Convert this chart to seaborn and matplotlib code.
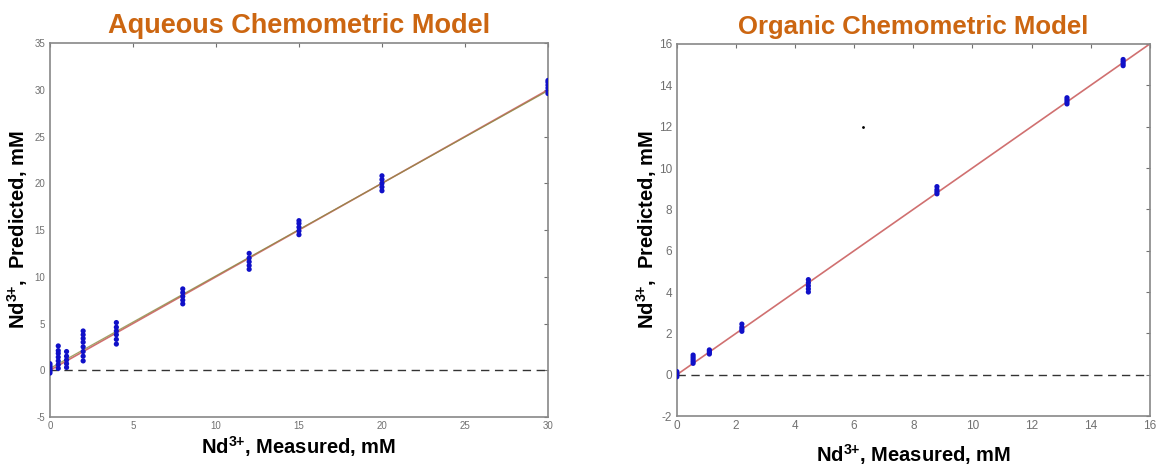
import numpy as np
import pandas as pd
import seaborn as sns
import matplotlib.pyplot as plt

sns.set_style("white")
plt.rcParams['font.family'] = ['Liberation Sans', 'DejaVu Sans']
plt.rcParams['axes.unicode_minus'] = False

# aqueous model: measured level -> predicted replicates
aq_measured = [0, 0.5, 1, 2, 4, 8, 12, 15, 20, 30]
aq_predicted = [
    [-0.3, -0.1, 0.1, 0.3, 0.5, 0.7],
    [0.2, 0.6, 1.0, 1.4, 1.8, 2.1, 2.6],
    [0.3, 0.7, 1.1, 1.5, 2.0],
    [1.0, 1.5, 2.0, 2.5, 3.0, 3.4, 3.8, 4.2],
    [2.8, 3.3, 3.8, 4.2, 4.6, 5.1],
    [7.1, 7.5, 7.9, 8.3, 8.7],
    [10.8, 11.2, 11.6, 12.0, 12.5],
    [14.5, 14.9, 15.3, 15.7, 16.0],
    [19.2, 19.6, 20.0, 20.4, 20.8],
    [29.6, 29.9, 30.2, 30.5, 30.8, 31.0],
]

# organic model
org_measured = [0, 0.55, 1.1, 2.2, 4.45, 8.8, 13.2, 15.1]
org_predicted = [
    [-0.1, 0.0, 0.05, 0.15],
    [0.55, 0.65, 0.75, 0.85, 0.95],
    [1.0, 1.07, 1.14, 1.2],
    [2.1, 2.2, 2.3, 2.45],
    [4.0, 4.15, 4.3, 4.45, 4.6],
    [8.75, 8.85, 8.95, 9.1],
    [13.1, 13.2, 13.3, 13.4],
    [14.95, 15.05, 15.15, 15.25],
]

def to_frame(measured, predicted):
    rows = []
    for m, ps in zip(measured, predicted):
        for p in ps:
            rows.append({'measured': m, 'predicted': p})
    return pd.DataFrame(rows)

aq_df = to_frame(aq_measured, aq_predicted)
org_df = to_frame(org_measured, org_predicted)

title_color = '#CC6611'
gray = '#707070'

fig = plt.figure(figsize=(11.59, 4.68), dpi=100)
ax1 = fig.add_axes([0.0431, 0.109, 0.4297, 0.799])
ax2 = fig.add_axes([0.584, 0.111, 0.408, 0.795])

def style(ax, xlim, ylim, xticks, yticks, tsize):
    ax.set_xlim(*xlim)
    ax.set_ylim(*ylim)
    ax.set_xticks(xticks)
    ax.set_yticks(yticks)
    ax.tick_params(direction='in', length=3, width=0.8, colors=gray, labelsize=tsize,
                   top=True, right=True, labeltop=False, labelright=False)
    ax.tick_params(axis='x', pad=3)
    for s in ax.spines.values():
        s.set_color('#888888')
        s.set_linewidth(1.2)
    ax.axhline(0, color='#333333', ls=(0, (6, 4)), lw=1)
    ax.set_xlabel(r'Nd$^\mathregular{3{+}}$, Measured, mM', fontsize=14.5, fontweight='bold', color='black')
    ax.set_ylabel(r'Nd$^\mathregular{3{+}}$,  Predicted, mM', fontsize=14.5, fontweight='bold', color='black')

# aqueous
line_aq = pd.DataFrame({'x': [0, 30], 'y': [0, 30]})
sns.lineplot(data=line_aq, x='x', y='y', ax=ax1, color='#D07070', lw=1.2)
line_fit = pd.DataFrame({'x': [0, 30], 'y': [0.2, 29.9]})
sns.lineplot(data=line_fit, x='x', y='y', ax=ax1, color='#8A8A40', lw=0.9, alpha=0.8)
sns.scatterplot(data=aq_df, x='measured', y='predicted', ax=ax1, color='#1010C8',
                s=14, edgecolor='none', zorder=5)
style(ax1, (0, 30), (-5, 35), range(0, 31, 5), range(-5, 36, 5), 7)
ax1.set_title('Aqueous Chemometric Model', fontsize=19.5, fontweight='bold', color=title_color, pad=7)
ax1.xaxis.set_label_coords(0.5, -0.045)
ax1.yaxis.set_label_coords(-0.04, 0.5)

# organic
line_org = pd.DataFrame({'x': [0, 16], 'y': [0, 16]})
sns.lineplot(data=line_org, x='x', y='y', ax=ax2, color='#D07070', lw=1.2)
sns.scatterplot(data=org_df, x='measured', y='predicted', ax=ax2, color='#1010C8',
                s=14, edgecolor='none', zorder=5)
ax2.plot([6.3], [12], marker='.', color='black', ms=2)
style(ax2, (0, 16), (-2, 16), range(0, 17, 2), range(-2, 17, 2), 8.5)
ax2.set_title('Organic Chemometric Model', fontsize=18.5, fontweight='bold', color=title_color, pad=7)
ax2.xaxis.set_label_coords(0.5, -0.07)
ax2.yaxis.set_label_coords(-0.038, 0.5)

fig.savefig('out.png', dpi=100)
